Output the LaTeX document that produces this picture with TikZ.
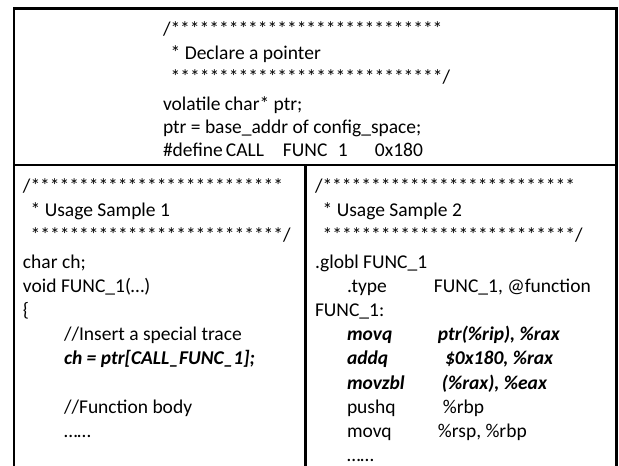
\documentclass[tikz,border=0pt]{standalone}
\usepackage{fontspec}
\setmainfont{Carlito}
\begin{document}
\begin{tikzpicture}[x=1pt,y=-1pt,
  txt/.style={anchor=base west,inner sep=0pt,outer sep=0pt,font=\fontsize{19.5}{23}\selectfont},
  frame/.style={line width=2.4pt,black}]
\useasboundingbox (0,0) rectangle (619,466);
% frame
\draw[frame] (14,466) -- (14,8.5) -- (616.5,8.5) -- (616.5,466);
\draw[frame] (14,165) -- (616.5,165);
\draw[frame] (305.5,165) -- (305.5,466);
% top block
\node[txt] (t1) at (163,35) {/****************************};
\node[txt] (t2) at (163,59) {\ \,* Declare a pointer};
\node[txt] (t3) at (163,83) {\ \,****************************/};
\node[txt] (t4) at (163,110) {volatile char* ptr;};
\node[txt] (t5) at (163,133.5) {ptr = base\_addr of config\_space;};
\node[txt] (t6) at (163,156) {\rlap{\#define}\rlap{\hspace{63pt}CALL}\rlap{\hspace{120pt}FUNC}\rlap{\hspace{175pt}1}\hspace{212pt}0x180};
% left block
\node[txt] (l1) at (23,192) {/**************************};
\node[txt] (l2) at (23,216.5) {\ \,* Usage Sample 1};
\node[txt] (l3) at (23,241) {\ \,**************************/};
\node[txt] (l4) at (23,268) {char ch;};
\node[txt] (l5) at (23,292.2) {void FUNC\_1(…)};
\node[txt] (l6) at (23,316.4) {\{};
\node[txt] (l7) at (64,340.6) {//Insert a special trace};
\node[txt] (l8) at (64,364.8) {\textbf{\textit{ch = ptr[CALL\_FUNC\_1];}}};
\node[txt] (l9) at (64,413.2) {//Function body};
\node[txt] (l10) at (64,437.4) {……};
% right block
\node[txt] (r1) at (315,192) {/**************************};
\node[txt] (r2) at (315,216.5) {\ \,* Usage Sample 2};
\node[txt] (r3) at (315,241) {\ \,**************************/};
\node[txt] (r4) at (315,268) {.globl FUNC\_1};
\node[txt] (r5) at (347,292.2) {\makebox[87pt][l]{.type}FUNC\_1, @function};
\node[txt] (r6) at (315,316.4) {FUNC\_1:};
\node[txt] (r7) at (347,340.6) {\textbf{\textit{\makebox[91pt][l]{movq}ptr(\%rip), \%rax}}};
\node[txt] (r8) at (347,364.8) {\textbf{\textit{\makebox[98pt][l]{addq}\$0x180, \%rax}}};
\node[txt] (r9) at (347,389) {\textbf{\textit{\makebox[95pt][l]{movzbl}(\%rax), \%eax}}};
\node[txt] (r10) at (347,413.2) {\makebox[96pt][l]{pushq}\%rbp};
\node[txt] (r11) at (347,437.4) {\makebox[91pt][l]{movq}\%rsp, \%rbp};
\node[txt] (r12) at (347,461.6) {……};
\end{tikzpicture}
\end{document}
